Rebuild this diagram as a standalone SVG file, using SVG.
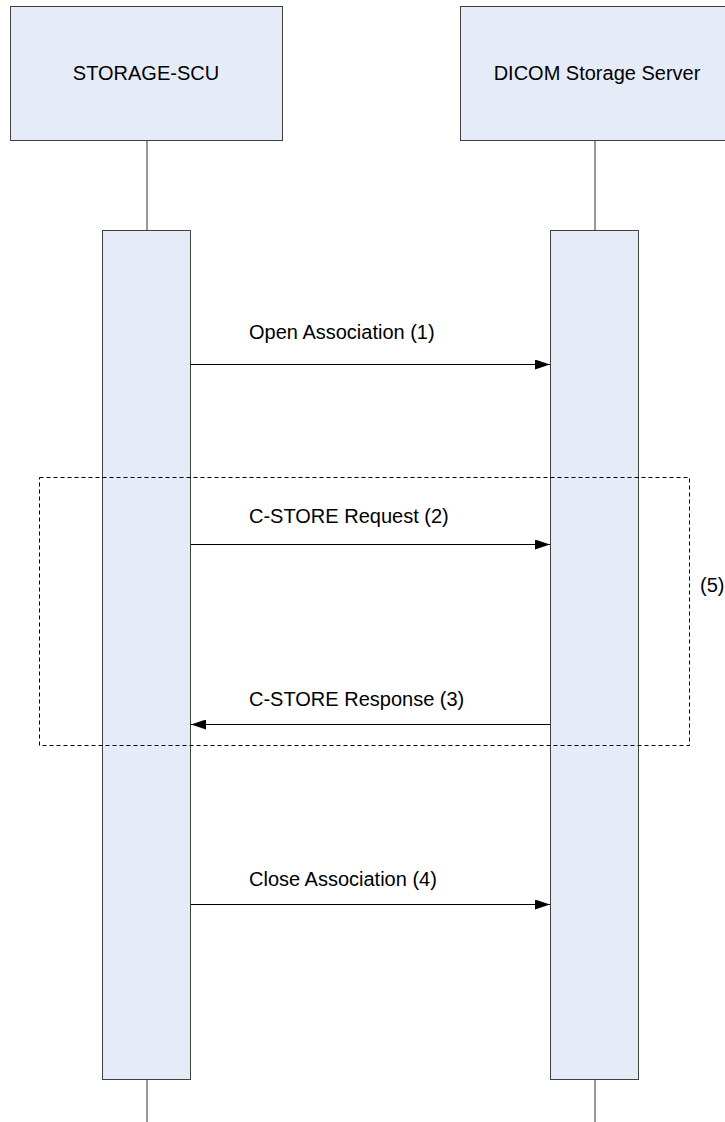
<svg xmlns="http://www.w3.org/2000/svg" width="725" height="1122" viewBox="0 0 725 1122">
<style>
.box{fill:#E6ECF7;stroke:#404040;stroke-width:1}
.life{stroke:#303030;stroke-width:1;fill:none}
.msg{stroke:#000;stroke-width:1;fill:none}
.frame{fill:none;stroke:#000;stroke-width:1;stroke-dasharray:4,3}
text{font-family:"Liberation Sans",Arial,sans-serif;font-size:20px;fill:#000}
</style>
<defs>
<marker id="ah" viewBox="0 0 15 10" refX="15" refY="5" markerWidth="15" markerHeight="10" markerUnits="userSpaceOnUse" orient="auto">
<path d="M0,0 L15,5 L0,10 z" fill="#000"/>
</marker>
</defs>
<rect width="725" height="1122" fill="#fff"/>
<g id="lifelines">
<line class="life" x1="147" y1="140" x2="147" y2="1122"/>
<line class="life" x1="595" y1="140" x2="595" y2="1122"/>
</g>
<g id="storage-scu">
<rect class="box" x="10.5" y="6.5" width="272" height="134"/>
<text x="146" y="80" text-anchor="middle">STORAGE-SCU</text>
</g>
<g id="dicom-server">
<rect class="box" x="460.5" y="6.5" width="272" height="134"/>
<text x="597" y="80" text-anchor="middle">DICOM Storage Server</text>
</g>
<g id="activation-scu">
<rect class="box" x="102.5" y="230.5" width="88" height="849"/>
</g>
<g id="activation-server">
<rect class="box" x="550.5" y="230.5" width="88" height="849"/>
</g>
<g id="loop-frame">
<rect class="frame" x="39.5" y="477.5" width="650" height="268"/>
<text x="700" y="592">(5)</text>
</g>
<g id="connectors">
<line class="msg" x1="191" y1="364.5" x2="550" y2="364.5" marker-end="url(#ah)"/>
<line class="msg" x1="191" y1="544.5" x2="550" y2="544.5" marker-end="url(#ah)"/>
<line class="msg" x1="550" y1="724.5" x2="191" y2="724.5" marker-end="url(#ah)"/>
<line class="msg" x1="191" y1="904.5" x2="550" y2="904.5" marker-end="url(#ah)"/>
</g>
<g id="labels">
<text x="249" y="339">Open Association (1)</text>
<text x="249" y="523">C-STORE Request (2)</text>
<text x="249" y="706">C-STORE Response (3)</text>
<text x="249" y="886">Close Association (4)</text>
</g>
</svg>
